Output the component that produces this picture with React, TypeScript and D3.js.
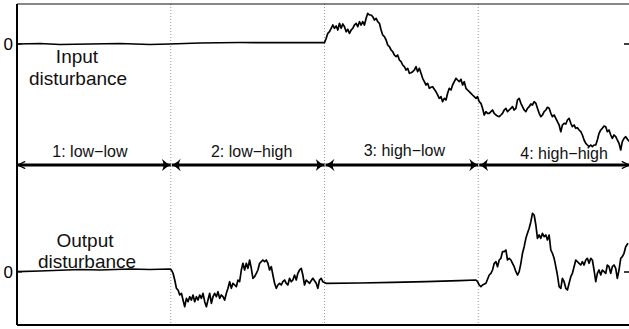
import React from 'react';
import * as d3 from 'd3';

// time axis in samples, four phases of 154 samples each
const phaseBounds = [0, 154, 308, 462, 616];
const phaseLabels = ['1: low\u2212low', '2: low\u2212high', '3: high\u2212low', '4: high\u2212high'];
const phaseLabelT = [73, 235, 388, 548];
const phaseLabelDy = [0, 0, -0.8, 2.5];

// [t, value]
const inputDisturbance: [number, number][] = [
  [0, 0], [23, 0.05], [43, -0.05], [73, 0], [103, 0.05], [133, -0.05], [153, 0], [183, 0.1], [223, 0.15], [263, 0.13],
  [306.3, 0.13], [308, 0.13], [309.7, 0.57], [311.3, 1.07], [313, 1.23], [314.7, 1.57], [316.3, 1.9], [318, 1.57],
  [319.7, 1.8], [321.3, 1.4], [323, 2.07], [324.7, 1.57], [326.3, 2.0], [328, 1.73], [329.7, 1.23], [331.3, 1.47],
  [333, 1.07], [334.7, 1.4], [336.3, 1.57], [338, 1.9], [339.7, 2.07], [341.3, 1.73], [343, 2.23], [344.7, 1.9],
  [346.3, 2.23], [348, 1.9], [349.7, 2.57], [351.3, 3.07], [353, 2.9], [354.7, 2.9], [356.3, 2.73], [358, 2.4],
  [359.7, 2.57], [361.3, 2.23], [363, 2.07], [364.7, 1.4], [366.3, 0.9], [368, 0.73], [369.7, 0.4], [371.3, -0.1],
  [373, -0.27], [374.7, -0.6], [376.3, -0.77], [378, -1.1], [379.7, -1.27], [381.3, -1.1], [383, -1.6], [384.7, -1.77],
  [386.3, -2.1], [388, -2.27], [389.7, -2.6], [391.3, -2.43], [393, -2.93], [394.7, -2.87], [396.3, -2.77], [398, -2.6],
  [399.7, -2.27], [401.3, -2.77], [403, -2.43], [404.7, -2.93], [406.3, -3.43], [408, -3.77], [409.7, -4.1],
  [411.3, -3.93], [413, -4.43], [414.7, -4.33], [416.3, -4.27], [418, -4.53], [419.7, -4.77], [421.3, -5.1],
  [423, -5.43], [424.7, -5.27], [426.3, -5.77], [428, -5.43], [429.7, -5.6], [431.3, -4.93], [433, -4.43],
  [434.7, -4.6], [436.3, -4.1], [438, -3.77], [439.7, -3.43], [441.3, -3.6], [443, -3.77], [444.7, -3.53],
  [446.3, -4.1], [448, -3.77], [449.7, -4.43], [451.3, -4.6], [453, -4.77], [454.7, -4.93], [456.3, -5.1],
  [458, -5.27], [459.7, -5.43], [461.3, -5.27], [463, -5.77], [464.7, -5.93], [466.3, -6.43], [468, -7.1],
  [469.7, -6.77], [471.3, -6.93], [473, -6.93], [474.7, -6.77], [476.3, -6.6], [478, -6.93], [479.7, -7.1],
  [481.3, -7.2], [483, -7.27], [484.7, -7.1], [486.3, -6.93], [488, -6.6], [489.7, -6.43], [491.3, -6.77],
  [493, -6.6], [494.7, -6.43], [496.3, -6.27], [498, -6.6], [499.7, -6.43], [501.3, -5.6], [503, -5.43],
  [504.7, -5.93], [506.3, -6.27], [508, -6.6], [509.7, -6.77], [511.3, -6.43], [513, -6.27], [514.7, -6.0],
  [516.3, -6.1], [518, -5.77], [519.7, -5.93], [521.3, -6.43], [523, -6.93], [524.7, -7.27], [526.3, -7.1],
  [528, -6.77], [529.7, -6.6], [531.3, -6.33], [533, -6.43], [534.7, -6.93], [536.3, -7.27], [538, -7.1],
  [539.7, -7.43], [541.3, -7.77], [543, -8.1], [544.7, -8.77], [546.3, -8.1], [548, -7.93], [549.7, -8.0],
  [551.3, -7.6], [553, -7.43], [554.7, -7.93], [556.3, -8.27], [558, -8.1], [559.7, -8.43], [561.3, -8.37],
  [563, -8.6], [564.7, -8.77], [566.3, -9.1], [568, -9.6], [569.7, -9.93], [571.3, -10.1], [573, -10.27],
  [574.7, -10.1], [576.3, -10.27], [578, -10.1], [579.7, -10.1], [581.3, -9.6], [583, -8.93], [584.7, -8.6],
  [586.3, -8.43], [588, -8.2], [589.7, -8.27], [591.3, -8.77], [593, -8.6], [594.7, -9.1], [596.3, -9.43],
  [598, -9.1], [599.7, -9.27], [601.3, -9.6], [603, -9.93], [604.7, -10.6], [606.3, -9.77], [608, -9.43],
  [609.7, -9.27], [612, -9.6], [615, -9.9],
];

const outputDisturbance: [number, number][] = [
  [0, 0.03], [23, 0.1], [63, 0.25], [83, 0.2], [113, 0.3], [133, 0.25], [153, 0.3],
  [154.7, 0.2], [156.3, -0.13], [158, -0.8], [159.7, -1.63], [161.3, -1.8], [163, -2.3], [164.7, -2.13],
  [166.3, -2.8], [168, -3.47], [169.7, -2.63], [171.3, -2.97], [173, -2.47], [174.7, -2.8], [176.3, -2.3],
  [178, -2.97], [179.7, -2.47], [181.3, -2.8], [183, -2.3], [184.7, -2.63], [186.3, -2.13], [188, -2.97],
  [189.7, -3.47], [191.3, -2.8], [193, -2.13], [194.7, -3.13], [196.3, -2.47], [198, -2.13], [199.7, -2.47],
  [201.3, -1.97], [203, -2.63], [204.7, -2.3], [206.3, -2.47], [208, -2.8], [209.7, -2.13], [211.3, -1.63],
  [213, -0.97], [214.7, -1.63], [216.3, -1.13], [218, -1.3], [219.7, -1.47], [221.3, -0.8], [223, -0.97],
  [224.7, 0.2], [226.3, 0.87], [228, 0.2], [229.7, 0.87], [231.3, 0.37], [233, 1.2], [234.7, 0.37],
  [236.3, -0.63], [238, -0.47], [239.7, -0.13], [241.3, 0.2], [243, 0.87], [244.7, 1.03], [246.3, 1.2],
  [248, 1.03], [249.7, 1.2], [251.3, 0.87], [253, 0.2], [254.7, 0.53], [256.3, -0.3], [258, -1.13],
  [259.7, -1.63], [261.3, -1.3], [263, -1.13], [264.7, -1.3], [266.3, -0.97], [268, -0.8], [269.7, -1.13],
  [271.3, -1.3], [273, -0.63], [274.7, -0.97], [276.3, -0.8], [278, -0.3], [279.7, -0.8], [281.3, -0.13],
  [283, 0.2], [284.7, 0.37], [286.3, -0.3], [288, -1.3], [289.7, -0.8], [293, -1.13], [296.3, -0.63],
  [299.7, -1.13], [301.3, -1.63], [303, -0.8], [304.7, -0.63], [306.3, -0.97], [309.7, -1.13],
  [343, -1.1], [376.3, -1.03], [409.7, -0.97], [443, -0.87], [459.7, -0.8],
  [461.3, -0.97], [463, -1.3], [464.7, -1.47], [466.3, -1.3], [469.7, -1.13], [473, -0.3], [474.7, -0.13],
  [476.3, 0.2], [478, 0.87], [479.7, 1.03], [481.3, 0.53], [483, 1.2], [484.7, 1.37], [486.3, 2.03],
  [488, 2.03], [489.7, 2.2], [491.3, 1.2], [493, 1.37], [494.7, 1.2], [496.3, 0.87], [498, 0.53],
  [499.7, 0.03], [501.3, -0.3], [503, 0.03], [504.7, 0.87], [506.3, 1.87], [508, 2.53], [509.7, 3.37],
  [511.3, 3.87], [513, 4.37], [514.7, 5.03], [516.3, 5.87], [518, 5.7], [519.7, 4.7], [521.3, 3.37],
  [523, 3.7], [524.7, 3.37], [526.3, 3.87], [528, 3.53], [529.7, 3.7], [531.3, 3.2], [533, 3.7],
  [534.7, 2.2], [536.3, 1.87], [538, 1.37], [539.7, 0.53], [541.3, -0.3], [543, -1.47], [544.7, -1.63],
  [546.3, -0.63], [548, -0.97], [549.7, -1.63], [551.3, -1.8], [553, -1.13], [554.7, -0.47], [556.3, -0.13],
  [558, 0.53], [559.7, 1.2], [563, 0.87], [564.7, 0.7], [566.3, 1.03], [568, 0.7], [569.7, 1.2],
  [571.3, 1.37], [573, 0.87], [574.7, 1.37], [576.3, 1.2], [578, 0.2], [579.7, -0.97], [581.3, -0.13],
  [583, 0.2], [584.7, -0.3], [586.3, 0.2], [588, 0.03], [589.7, -0.13], [591.3, 0.7], [593, 0.53],
  [594.7, -0.13], [596.3, 0.53], [598, 0.7], [599.7, 0.37], [601.3, -0.63], [603, 0.2], [604.7, 1.37],
  [606.3, 1.53], [608, 1.87], [609.7, 2.53], [612, 2.87],
];

const W = 629;
const H = 329;
const left = 17;
const right = 632;
const top = 4;
const bottom = 325;
const arrowY = 165;
const font = 'Liberation Sans, Arial, Helvetica, sans-serif';

export default function App() {
  const x = d3.scaleLinear().domain([0, 616]).range([left, right]);
  const yTop = d3.scaleLinear().domain([0, -10]).range([44, 144]);
  const yBot = d3.scaleLinear().domain([0, -10]).range([272, 372]);

  const lineTop = d3.line<[number, number]>().x(d => x(d[0])).y(d => yTop(d[1]));
  const lineBot = d3.line<[number, number]>().x(d => x(d[0])).y(d => yBot(d[1]));

  return (
    <div style={{ position: 'absolute', left: 0, top: 0 }}>
      <svg width={W} height={H} style={{ display: 'block', background: '#fff' }}>
        <defs>
          <marker id="head" markerUnits="userSpaceOnUse" viewBox="0 -7.5 10 15"
            refX={10} refY={0} markerWidth={9} markerHeight={14} orient="auto-start-reverse">
            <path d="M0,-7 Q5,-2 10,0 Q5,2 0,7 Q4,0 0,-7 Z" fill="#000" />
          </marker>
          <marker id="thin" markerUnits="userSpaceOnUse" viewBox="0 -5 10 10"
            refX={10} refY={0} markerWidth={8} markerHeight={8} orient="auto-start-reverse">
            <path d="M1,-4.5 L10,0 L1,4.5" fill="none" stroke="#000" strokeWidth={1.6} />
          </marker>
        </defs>

        {/* phase dividers */}
        {phaseBounds.slice(1, 4).map(b => (
          <line key={b} x1={x(b)} x2={x(b)} y1={top} y2={bottom}
            stroke="#9a9a9a" strokeWidth={1} strokeDasharray="1,2" />
        ))}

        {/* frame */}
        <line x1={left} x2={W} y1={top} y2={top} stroke="#111" strokeWidth={1.2} />
        <line x1={left} x2={left} y1={top} y2={bottom} stroke="#000" strokeWidth={2} />
        <line x1={left} x2={W} y1={bottom} y2={bottom} stroke="#000" strokeWidth={2} />

        {/* zero ticks */}
        {[yTop(0), yBot(0)].map((yy, i) => (
          <g key={i}>
            <line x1={left} x2={left + 5} y1={yy} y2={yy} stroke="#000" strokeWidth={1} />
            <line x1={right - 8} x2={right} y1={yy} y2={yy} stroke="#000" strokeWidth={1.5} />
            <text x={13} y={yy + 6} textAnchor="end" fontFamily={font} fontSize={17} fill="#000">0</text>
          </g>
        ))}

        {/* phase arrows */}
        {phaseBounds.slice(0, 4).map((b, i) => (
          <line key={b} x1={x(b) + 1} x2={x(phaseBounds[i + 1]) - (i === 3 ? 3 : 0)} y1={arrowY} y2={arrowY}
            stroke="#000" strokeWidth={2.8}
            markerStart={i === 0 ? 'url(#thin)' : 'url(#head)'}
            markerEnd={i === 3 ? 'url(#thin)' : 'url(#head)'} />
        ))}
        {phaseLabels.map((lab, i) => (
          <text key={lab} x={x(phaseLabelT[i])} y={156.5 + phaseLabelDy[i]} textAnchor="middle"
            fontFamily={font} fontSize={16} fill="#111">{lab}</text>
        ))}

        {/* panel titles */}
        <text textAnchor="middle" fontFamily={font} fontSize={19} fill="#111">
          <tspan x={77} y={63}>Input</tspan>
          <tspan x={78} y={85}>disturbance</tspan>
        </text>
        <text textAnchor="middle" fontFamily={font} fontSize={19} fill="#111">
          <tspan x={85} y={246.5}>Output</tspan>
          <tspan x={87} y={268}>disturbance</tspan>
        </text>

        {/* series */}
        <path d={lineTop(inputDisturbance) ?? ''} fill="none" stroke="#000" strokeWidth={1.7} strokeLinejoin="round" />
        <path d={lineBot(outputDisturbance) ?? ''} fill="none" stroke="#000" strokeWidth={1.7} strokeLinejoin="round" />
      </svg>
    </div>
  );
}
